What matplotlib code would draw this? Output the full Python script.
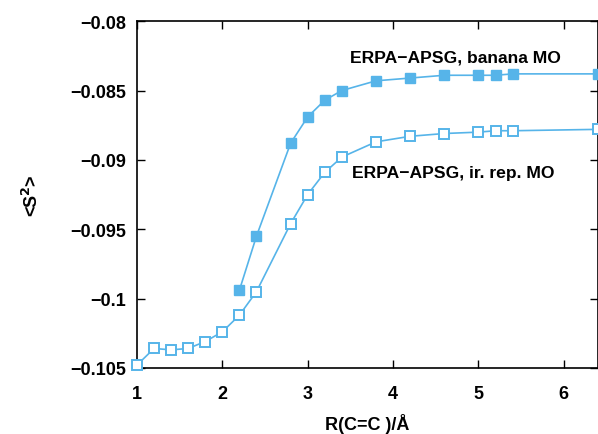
import matplotlib.pyplot as plt
from matplotlib import font_manager

# data
r_banana = [2.2, 2.4, 2.8, 3.0, 3.2, 3.4, 3.8, 4.2, 4.6, 5.0, 5.2, 5.4, 6.4]
s2_banana = [-0.0994, -0.0955, -0.0888, -0.0869, -0.0857, -0.0850, -0.0843,
             -0.0841, -0.0839, -0.0839, -0.0839, -0.0838, -0.0838]

r_irrep = [1.0, 1.2, 1.4, 1.6, 1.8, 2.0, 2.2, 2.4, 2.8, 3.0, 3.2, 3.4, 3.8,
           4.2, 4.6, 5.0, 5.2, 5.4, 6.4]
s2_irrep = [-0.1048, -0.1036, -0.1037, -0.1036, -0.1031, -0.1024, -0.1012,
            -0.0995, -0.0946, -0.0925, -0.0909, -0.0898, -0.0887, -0.0883,
            -0.0881, -0.0880, -0.0879, -0.0879, -0.0878]

xticks = [1, 2, 3, 4, 5, 6]
yticks = [-0.105, -0.1, -0.095, -0.09, -0.085, -0.08]
ytick_labels = ['\u22120.105', '\u22120.1', '\u22120.095', '\u22120.09', '\u22120.085', '\u22120.08']

names = {f.name for f in font_manager.fontManager.ttflist}
fam = 'Liberation Sans Narrow' if 'Liberation Sans Narrow' in names else 'Liberation Sans'
plt.rcParams['font.family'] = [fam, 'DejaVu Sans']
plt.rcParams['font.weight'] = 'bold'
plt.rcParams['mathtext.default'] = 'bf'

color = '#56b4e9'

fig = plt.figure(figsize=(5.98, 4.35), dpi=100)
ax = fig.add_axes([0.229, 0.152, 0.771, 0.797])

ax.plot(r_banana, s2_banana, '-s', color=color, lw=1.2, ms=7.5,
        mfc=color, mec=color, clip_on=False, zorder=3)
ax.plot(r_irrep, s2_irrep, '-s', color=color, lw=1.2, ms=7.5,
        mfc='white', mec=color, mew=1.4, clip_on=False, zorder=3)

ax.text(3.5, -0.0826, 'ERPA\u2212APSG, banana MO', fontsize=12.6,
        fontweight='bold', ha='left', va='center')
ax.text(3.52, -0.0909, 'ERPA\u2212APSG, ir. rep. MO', fontsize=12.6,
        fontweight='bold', ha='left', va='center')

ax.set_xlim(1, 6.4)
ax.set_ylim(-0.105, -0.08)
ax.set_xticks(xticks)
ax.set_xticklabels([str(t) for t in xticks])
ax.set_yticks(yticks)
ax.set_yticklabels(ytick_labels)
ax.tick_params(direction='in', top=True, right=True, length=6, width=1,
               labelsize=13, pad=8)
ax.tick_params(axis='x', pad=12)
for sp in ax.spines.values():
    sp.set_linewidth(1.2)

ax.set_xlabel('R(C=C )/\u00c5', fontsize=13, fontweight='bold', labelpad=8)
ax.set_ylabel(r'<S$^2$>', fontsize=13, fontweight='bold', labelpad=20)

fig.savefig('out.png', dpi=100)
